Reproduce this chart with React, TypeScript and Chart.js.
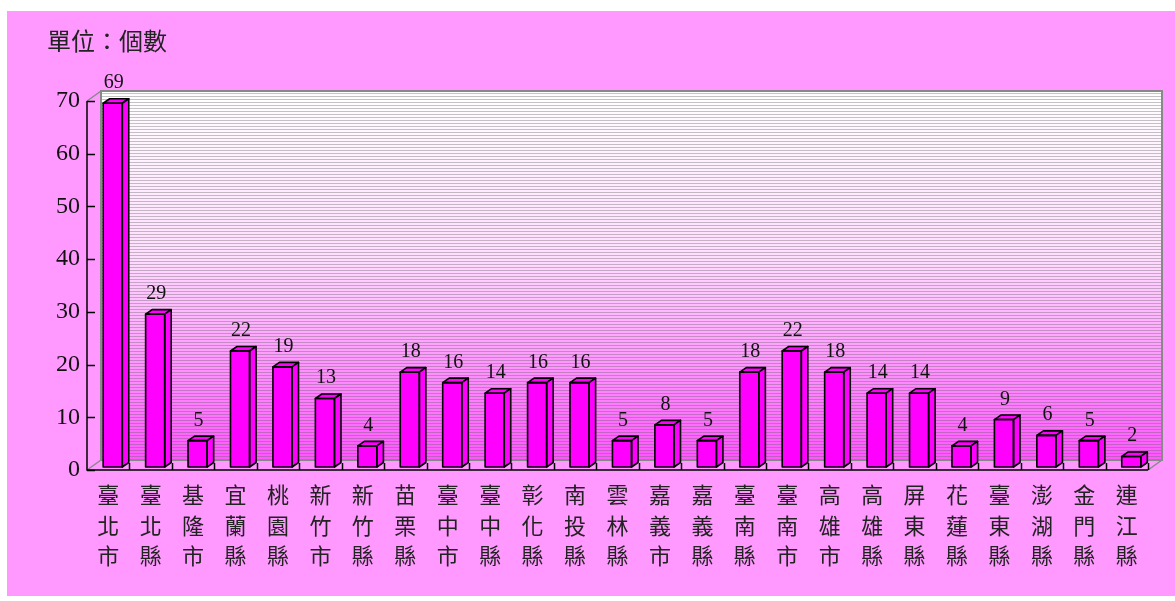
import React, { useEffect, useRef } from "react";
import { Chart, registerables } from "chart.js";

Chart.register(...registerables);

const categories: string[] = [
  "臺北市", "臺北縣", "基隆市", "宜蘭縣", "桃園縣", "新竹市", "新竹縣", "苗栗縣",
  "臺中市", "臺中縣", "彰化縣", "南投縣", "雲林縣", "嘉義市", "嘉義縣", "臺南縣",
  "臺南市", "高雄市", "高雄縣", "屏東縣", "花蓮縣", "臺東縣", "澎湖縣", "金門縣", "連江縣",
];
const counts: number[] = [69, 29, 5, 22, 19, 13, 4, 18, 16, 14, 16, 16, 5, 8, 5, 18, 22, 18, 14, 14, 4, 9, 6, 5, 2];
const yTicks: number[] = [0, 10, 20, 30, 40, 50, 60, 70];
const unitTitle = "單位：個數";

const W = 1168;
const H = 585;
const WALL_DX = 14;
const WALL_DY = -10;
const BAR_DX = 4.5;
const BAR_DY = -3;
const SIDE_DX = 6.5;
const SIDE_DY = -4.5;
const MAGENTA = "#FF00FF";

const decoPlugin = {
  id: "deco3d",
  beforeDatasetsDraw(chart: any) {
    const { ctx, chartArea } = chart;
    const { left, right, top, bottom } = chartArea;
    ctx.save();
    // title
    ctx.fillStyle = "#222";
    ctx.font = "24px 'Noto Sans CJK TC', sans-serif";
    ctx.textBaseline = "middle";
    ctx.textAlign = "left";
    ctx.fillText(unitTitle, 40, 30);

    // back wall
    const bl = left + WALL_DX, br = right + WALL_DX, bt = top + WALL_DY, bb = bottom + WALL_DY;
    const g = ctx.createLinearGradient(0, bt, 0, bb);
    g.addColorStop(0, "#FFFFFF");
    g.addColorStop(0.45, "#FFDDFF");
    g.addColorStop(1, "#FF55FF");
    ctx.fillStyle = g;
    ctx.fillRect(bl, bt, br - bl, bb - bt);
    ctx.fillStyle = "rgba(100,100,100,0.38)";
    for (let y = bt + 2; y < bb; y += 3) {
      ctx.fillRect(bl, y, br - bl, 1);
    }
    ctx.strokeStyle = "#888";
    ctx.lineWidth = 2;
    ctx.beginPath();
    ctx.moveTo(bl, bb);
    ctx.lineTo(bl, bt);
    ctx.lineTo(br, bt);
    ctx.lineTo(br, bb);
    ctx.lineTo(bl, bb);
    ctx.stroke();
    // left wall edges and floor edge
    ctx.lineWidth = 1.5;
    ctx.beginPath();
    ctx.moveTo(left, top);
    ctx.lineTo(bl, bt);
    ctx.moveTo(left, bottom);
    ctx.lineTo(bl, bb);
    ctx.moveTo(right, bottom);
    ctx.lineTo(br, bb);
    ctx.stroke();

    // axes
    ctx.strokeStyle = "#000";
    ctx.lineWidth = 1.5;
    ctx.beginPath();
    ctx.moveTo(left, top);
    ctx.lineTo(left, bottom);
    ctx.lineTo(right, bottom);
    ctx.stroke();
    const yScale = chart.scales.y;
    ctx.beginPath();
    yTicks.forEach((v) => {
      const py = Math.round(yScale.getPixelForValue(v)) + 0.5;
      ctx.moveTo(left, py);
      ctx.lineTo(left + 8, py);
    });
    const n = categories.length;
    const cw = (right - left) / n;
    for (let i = 1; i <= n; i++) {
      const px = Math.round(left + i * cw) + 0.5;
      ctx.moveTo(px, bottom);
      ctx.lineTo(px, bottom - 7);
    }
    ctx.stroke();
    ctx.restore();

    ctx.save();
    ctx.translate(BAR_DX, BAR_DY);
  },
  afterDatasetsDraw(chart: any) {
    const { ctx } = chart;
    const meta = chart.getDatasetMeta(0);
    ctx.fillStyle = MAGENTA;
    ctx.strokeStyle = "#000";
    ctx.lineWidth = 1.6;
    ctx.lineJoin = "round";
    meta.data.forEach((el: any) => {
      const x1 = el.x - el.width / 2;
      const x2 = el.x + el.width / 2;
      const yt = el.y;
      const yb = el.base;
      // top face
      ctx.beginPath();
      ctx.moveTo(x1, yt);
      ctx.lineTo(x2, yt);
      ctx.lineTo(x2 + SIDE_DX, yt + SIDE_DY);
      ctx.lineTo(x1 + SIDE_DX, yt + SIDE_DY);
      ctx.closePath();
      ctx.fill();
      ctx.stroke();
      // side face
      ctx.beginPath();
      ctx.moveTo(x2, yt);
      ctx.lineTo(x2 + SIDE_DX, yt + SIDE_DY);
      ctx.lineTo(x2 + SIDE_DX, yb + SIDE_DY);
      ctx.lineTo(x2, yb);
      ctx.closePath();
      ctx.fill();
      ctx.stroke();
      // front outline
      ctx.strokeRect(x1, yt, x2 - x1, yb - yt);
    });
    ctx.restore();

    // value labels
    ctx.save();
    ctx.fillStyle = "#111";
    ctx.font = "20px 'Liberation Serif', serif";
    ctx.textAlign = "center";
    ctx.textBaseline = "alphabetic";
    meta.data.forEach((el: any, i: number) => {
      ctx.fillText(String(counts[i]), el.x + BAR_DX + 1, el.y + BAR_DY - 15);
    });
    ctx.restore();
  },
};

export default function App() {
  const ref = useRef<HTMLCanvasElement | null>(null);
  useEffect(() => {
    if (!ref.current) return;
    const chart = new Chart(ref.current, {
      type: "bar",
      data: {
        labels: categories.map((c) => c.split("")),
        datasets: [
          {
            data: counts,
            backgroundColor: MAGENTA,
            borderColor: "#000",
            borderWidth: 0,
            categoryPercentage: 1,
            barPercentage: 0.45,
            clip: false as any,
          },
        ],
      },
      options: {
        animation: false,
        responsive: false,
        devicePixelRatio: 1,
        layout: { padding: { left: 0, right: 27, top: 90, bottom: 0 } },
        plugins: {
          legend: { display: false },
          title: { display: false },
          tooltip: { enabled: false },
        },
        scales: {
          x: {
            grid: { display: false, drawTicks: false },
            border: { display: false },
            ticks: {
              color: "#222",
              padding: 12,
              maxRotation: 0,
              autoSkip: false,
              font: { family: "'Liberation Serif', 'Noto Sans CJK TC', serif", size: 22, lineHeight: "30.5px" as any },
            },
            afterFit: (s: any) => {
              s.height = 126;
            },
          },
          y: {
            min: 0,
            max: 70,
            grid: { display: false, drawTicks: false },
            border: { display: false },
            ticks: {
              stepSize: 10,
              color: "#111",
              padding: 7,
              font: { family: "'Liberation Serif', serif", size: 24 },
            },
            afterFit: (s: any) => {
              s.width = 80;
            },
          },
        },
      },
      plugins: [decoPlugin],
    });
    return () => chart.destroy();
  }, []);
  return (
    <div
      style={{
        position: "absolute",
        left: 7,
        top: 11,
        width: W,
        height: H,
        background: "#FF99FF",
      }}
    >
      <canvas ref={ref} width={W} height={H} style={{ display: "block" }} />
    </div>
  );
}
